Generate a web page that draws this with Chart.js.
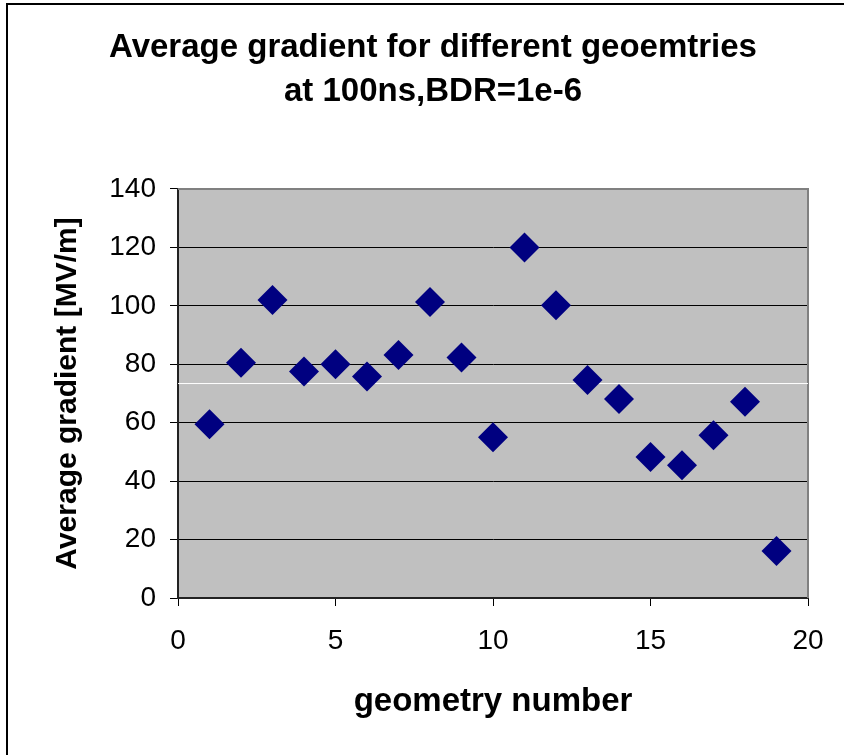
<!DOCTYPE html>
<html>
<head>
<meta charset="utf-8">
<script src="https://cdn.jsdelivr.net/npm/chart.js@4/dist/chart.umd.min.js"></script>
<style>
  html, body { margin: 0; padding: 0; background: #fff; overflow: hidden; }
  #c { display: block; }
</style>
</head>
<body>
<canvas id="c" width="844" height="755"></canvas>
<script>
// ---- data ----
const geometryNumbers = [1, 2, 3, 4, 5, 6, 7, 8, 9, 10, 11, 12, 13, 14, 15, 16, 17, 18, 19];
const averageGradient = [59.5, 80.5, 102, 77.5, 80, 75.8, 83.2, 101.3, 82.3, 55, 120, 100.2, 74.6, 68.1, 48.3, 45.4, 55.7, 67.2, 16.1];
const meanLineX = [0, 20];
const meanLineY = [73.4, 73.4];
const titleLines = ['Average gradient for different geoemtries', 'at 100ns,BDR=1e-6'];
const xAxisTitle = 'geometry number';
const yAxisTitle = 'Average gradient [MV/m]';

const FONT = "'Liberation Sans', Arial, sans-serif";

const plotBg = {
  id: 'plotBg',
  beforeDraw(chart) {
    const { ctx, chartArea: a } = chart;
    ctx.save();
    ctx.fillStyle = '#C0C0C0';
    ctx.fillRect(a.left, a.top, a.right - a.left, a.bottom - a.top);
    ctx.restore();
  },
  beforeDatasetsDraw(chart) {
    const { ctx, chartArea: a } = chart;
    ctx.save();
    ctx.strokeStyle = '#808080';
    ctx.lineWidth = 2;
    ctx.beginPath();
    ctx.moveTo(a.left, a.top);
    ctx.lineTo(a.right, a.top);
    ctx.lineTo(a.right, a.bottom);
    ctx.stroke();
    ctx.restore();
  },
  afterDraw(chart) {
    // outer chart frame (only left and top edges are visible in the reference)
    const { ctx, width, height } = chart;
    ctx.save();
    ctx.strokeStyle = '#000';
    ctx.lineWidth = 2;
    ctx.beginPath();
    ctx.moveTo(7, height);
    ctx.lineTo(7, 4);
    ctx.lineTo(width, 4);
    ctx.stroke();
    ctx.restore();
  }
};

new Chart(document.getElementById('c'), {
  type: 'scatter',
  data: {
    datasets: [
      {
        type: 'line',
        data: meanLineX.map((x, i) => ({ x, y: meanLineY[i] })),
        borderColor: '#FFFFFF',
        borderWidth: 1,
        pointRadius: 0,
        fill: false,
        order: 2
      },
      {
        data: geometryNumbers.map((x, i) => ({ x, y: averageGradient[i] })),
        pointStyle: 'rectRot',
        pointRadius: 15,
        pointHoverRadius: 15,
        backgroundColor: '#000080',
        borderColor: '#000080',
        borderWidth: 0,
        order: 1
      }
    ]
  },
  options: {
    responsive: false,
    animation: false,
    events: [],
    layout: { padding: { left: 58, right: 36, top: 0, bottom: 0 } },
    plugins: {
      legend: { display: false },
      tooltip: { enabled: false },
      title: {
        display: true,
        text: titleLines,
        color: '#000',
        font: { family: FONT, size: 33, weight: 'bold', lineHeight: 1.333 },
        padding: { top: 26, bottom: 75 }
      }
    },
    scales: {
      x: {
        type: 'linear',
        min: 0, max: 20,
        afterFit(s) { s.height = 157; },
        ticks: { stepSize: 5, color: '#000', font: { family: FONT, size: 28 }, padding: 18, maxRotation: 0 },
        grid: { drawOnChartArea: false, drawTicks: true, tickLength: 8, color: '#000', lineWidth: 1 },
        border: { display: true, color: '#222', width: 2 },
        title: { display: true, text: xAxisTitle, color: '#000',
                 font: { family: FONT, size: 33, weight: 'bold' }, padding: { top: 0, bottom: 33 } }
      },
      y: {
        type: 'linear',
        min: 0, max: 140,
        afterFit(s) { s.width = 120; },
        ticks: { stepSize: 20, color: '#000', font: { family: FONT, size: 28 }, padding: 14 },
        grid: { drawOnChartArea: true, drawTicks: true, tickLength: 8, color: '#000', lineWidth: 1 },
        border: { display: true, color: '#222', width: 2 },
        title: { display: true, text: yAxisTitle, color: '#000',
                 font: { family: FONT, size: 30, weight: 'bold' }, padding: { top: -8, bottom: 0 } }
      }
    }
  },
  plugins: [plotBg]
});
</script>
</body>
</html>
